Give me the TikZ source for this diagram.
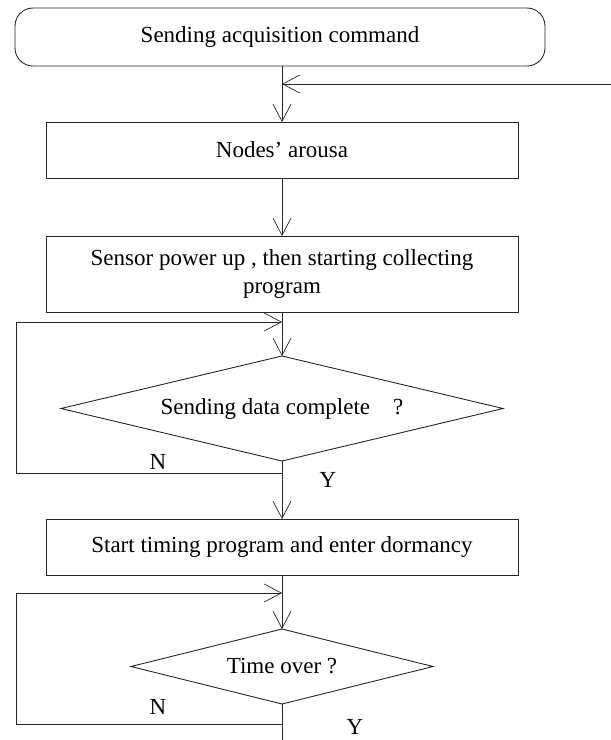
\documentclass[tikz,border=0pt]{standalone}
\usepackage{fontspec}
\setmainfont{Liberation Serif}
\usetikzlibrary{shapes.geometric,arrows.meta}
\begin{document}
\begin{tikzpicture}[x=1pt,y=-1pt,
  every node/.style={outer sep=0pt,inner sep=0pt,font=\fontsize{23}{28}\selectfont},
  line/.style={draw=black!85,line width=0.9pt},
  arr/.style={line,-{Straight Barb[length=17pt,width=18pt,line width=0.7pt]}},
  procbox/.style={line,rectangle,minimum width=472pt,minimum height=56pt,align=center},
  termbox/.style={line,rectangle,rounded corners=18pt,minimum width=530pt,minimum height=58pt},
  decision/.style={line,diamond}
]
\useasboundingbox (0,0) rectangle (611,740);
\node[termbox] (term) at (280,37) {Sending acquisition command};
\node[procbox] (box1) at (282,150) {Nodes’ arousa};
\node[procbox,minimum height=76pt] (box2) at (282,274) {Sensor power up , then starting collecting\\program};
\node[decision,minimum width=442pt,minimum height=105pt,aspect=4.2] (dia1) at (282,408.5) {Sending data complete\quad ?};
\node[procbox] (box3) at (282,547) {Start timing program and enter dormancy};
\node[decision,minimum width=302pt,minimum height=75pt,aspect=4.0] (dia2) at (282,666.5) {Time over ?};
\node (N1) at (158,462) {N};
\node (Y1) at (328,480) {Y};
\node (N2) at (158,707) {N};
\node (Y2) at (355,727) {Y};
\coordinate (fb) at (611,84);
\coordinate (n1) at (282,473);
\coordinate (l1b) at (16,473);
\coordinate (l1t) at (16,322);
\coordinate (j1) at (282,322);
\coordinate (n2) at (282,724);
\coordinate (l2b) at (16,724);
\coordinate (l2t) at (16,593);
\coordinate (j2) at (282,593);
\coordinate (fin) at (282,740);
\draw[arr] (box1.north |- term.south) -- (box1.north);
\draw[arr] (fb) -- (fb -| box1.north);
\draw[arr] (box1.south) -- (box2.north);
\draw[arr] (box2.south) -- (dia1.north);
\draw[arr] (n1) -- (l1b) -- (l1t) -- (j1);
\draw[arr] (dia1.south) -- (box3.north);
\draw[arr] (box3.south) -- (dia2.north);
\draw[arr] (n2) -- (l2b) -- (l2t) -- (j2);
\draw[line] (dia2.south) -- (fin);
\end{tikzpicture}
\end{document}
